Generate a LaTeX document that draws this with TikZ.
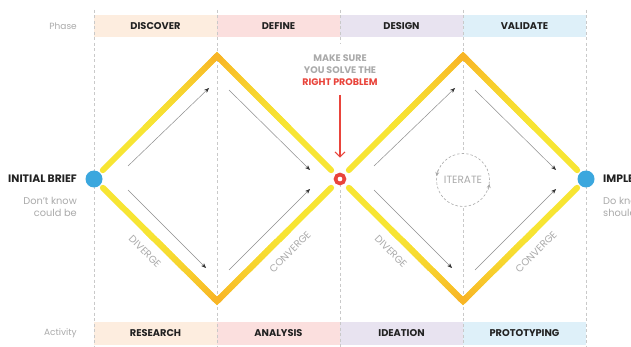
\documentclass[tikz,border=0pt]{standalone}
\usepackage{fontspec}
\setmainfont{Poppins}
\usetikzlibrary{arrows.meta,calc}

\definecolor{dyellow}{HTML}{F7E533}
\definecolor{dorange}{HTML}{F8B526}
\definecolor{dblue}{HTML}{3BA7DE}
\definecolor{dred}{HTML}{E9443B}
\definecolor{txtgray}{HTML}{AAAAAA}
\definecolor{guide}{HTML}{C9C9C9}
\definecolor{bandA}{HTML}{FDEDDF}
\definecolor{bandB}{HTML}{FBDFDE}
\definecolor{bandC}{HTML}{E8E3F0}
\definecolor{bandD}{HTML}{DEF0F9}
\definecolor{flowline}{HTML}{8E8E8E}
\definecolor{ink}{HTML}{222222}

\tikzset{
  guideline/.style={guide, line width=0.7pt, dash pattern=on 3pt off 2.5pt},
  band/.style={draw=none, minimum width=123pt, inner sep=0pt,
    font=\bfseries\fontsize{9.8}{11}\selectfont, text=ink},
  rowlabel/.style={anchor=east, text=txtgray, inner sep=0pt, font=\fontsize{9}{10}\selectfont},
  arm/.style={dyellow, line width=6pt, line cap=round, line join=miter},
  flow/.style={flowline, line width=0.5pt,
    -{Stealth[length=5pt,width=4pt,color=black!80]}},
  edgelabel/.style={text=txtgray, inner sep=0pt, font=\fontsize{10}{11}\selectfont},
  dot/.style={circle, fill=dblue, minimum size=17pt, inner sep=0pt},
}

% orange at the apex blending into the yellow arm
\newcommand{\shadearm}[2]{%
  \foreach \k in {0,...,23}{%
    \pgfmathsetmacro{\ta}{\k*0.026}%
    \pgfmathsetmacro{\tb}{(\k+1)*0.026+0.006}%
    \pgfmathsetmacro{\mx}{100*(1-\k/24)^1.5}%
    \draw[dorange!\mx!dyellow, line width=6pt, line cap=butt]
      ($(#1)!\ta!(#2)$) -- ($(#1)!\tb!(#2)$);
  }%
  \draw[dorange, line width=6pt, line cap=butt] (#1) -- ($(#1)!0.02!(#2)$);
}

\begin{document}
\begin{tikzpicture}[x=1pt,y=-1pt]
\useasboundingbox (0,0) rectangle (631,347);
\clip (0,0) rectangle (631,347);
\fill[white] (0,0) rectangle (631,347);

% phase and activity bands
\node[band, fill=bandA, minimum height=22pt] (discover) at (155.5,26) {DISCOVER};
\node[band, fill=bandB, minimum height=22pt] (define)   at (278.5,26) {DEFINE};
\node[band, fill=bandC, minimum height=22pt] (design)   at (401.5,26) {DESIGN};
\node[band, fill=bandD, minimum height=22pt] (validate) at (524.5,26) {VALIDATE};
\node[band, fill=bandA, minimum height=23pt] (research)  at (155.5,333.5) {RESEARCH};
\node[band, fill=bandB, minimum height=23pt] (analysis)  at (278.5,333.5) {ANALYSIS};
\node[band, fill=bandC, minimum height=23pt] (ideation)  at (401.5,333.5) {IDEATION};
\node[band, fill=bandD, minimum height=23pt] (prototype) at (524.5,333.5) {PROTOTYPING};
\node[rowlabel] (phase) at (77,26) {Phase};
\node[rowlabel] (activity) at (77,333.5) {Activity};

% diamond corners
\coordinate (L1) at (94,179);
\coordinate (T1) at (217,56);
\coordinate (B1) at (217,301);
\coordinate (M)  at (340,179);
\coordinate (T2) at (463,56);
\coordinate (B2) at (463,301);
\coordinate (R2) at (586,179);

% dashed column guides
\foreach \gx/\gn in {94/ga,217/gb,463/gd,586/ge}{
  \coordinate (\gn top) at (\gx,10);
  \coordinate (\gn bot) at (\gx,347);
  \draw[guideline] (\gn top) -- (\gn bot);
}
\coordinate (gc top) at (340,10);
\coordinate (gc mid) at (340,44);
\coordinate (gc bot) at (340,347);
\draw[guideline] (gc top) -- (gc mid);
\draw[guideline] (M) -- (gc bot);

% arm ends, leaving a gap around the circles
\coordinate (a1) at ($(L1)!12.5pt!(T1)$);
\coordinate (b1) at ($(M)!12.5pt!(T1)$);
\coordinate (c1) at ($(L1)!12.5pt!(B1)$);
\coordinate (d1) at ($(M)!12.5pt!(B1)$);
\coordinate (a2) at ($(M)!12.5pt!(T2)$);
\coordinate (b2) at ($(R2)!12.5pt!(T2)$);
\coordinate (c2) at ($(M)!12.5pt!(B2)$);
\coordinate (d2) at ($(R2)!12.5pt!(B2)$);

% the two diamonds
\draw[arm] (a1) -- (T1) -- (b1);
\draw[arm] (c1) -- (B1) -- (d1);
\draw[arm] (a2) -- (T2) -- (b2);
\draw[arm] (c2) -- (B2) -- (d2);
\shadearm{T1}{a1}\shadearm{T1}{b1}
\shadearm{B1}{c1}\shadearm{B1}{d1}
\shadearm{T2}{a2}\shadearm{T2}{b2}
\shadearm{B2}{c2}\shadearm{B2}{d2}
\foreach \p/\q/\r in {T1/a1/b1, B1/c1/d1, T2/a2/b2, B2/c2/d2}{
  \draw[dorange, line width=6pt, line join=miter]
    ($(\p)!0.03!(\q)$) -- (\p) -- ($(\p)!0.03!(\r)$);
}

% flow arrows inside the diamonds
\foreach \dx/\n in {0/1,246/2}{
  \coordinate (ul\n s) at (128+\dx,166);
  \coordinate (ul\n e) at (209+\dx,88);
  \coordinate (ur\n s) at (229+\dx,90);
  \coordinate (ur\n e) at (310+\dx,170);
  \coordinate (ll\n s) at (128+\dx,190);
  \coordinate (ll\n e) at (206+\dx,268);
  \coordinate (lr\n s) at (229+\dx,270);
  \coordinate (lr\n e) at (310+\dx,189);
  \draw[flow] (ul\n s) -- (ul\n e);
  \draw[flow] (ur\n s) -- (ur\n e);
  \draw[flow] (ll\n s) -- (ll\n e);
  \draw[flow] (lr\n s) -- (lr\n e);
}

% edge labels
\node[edgelabel, rotate=-45] (div1) at (145,251.5) {DIVERGE};
\node[edgelabel, rotate=45]  (con1) at (290,252) {CONVERGE};
\node[edgelabel, rotate=-45] (div2) at (391,251.5) {DIVERGE};
\node[edgelabel, rotate=45]  (con2) at (536,252) {CONVERGE};

% iterate loop
\node[circle, draw=txtgray, line width=0.6pt, dash pattern=on 2.5pt off 2pt,
      fill=white, minimum size=53pt, inner sep=0pt, text=txtgray,
      font=\fontsize{10.5}{11}\selectfont] (iter) at (463,180) {ITERATE};
\coordinate (itl s) at ($(iter.center)+(-25.4,-9.5)$);
\coordinate (itl e) at ($(iter.center)+(-26.4,-4)$);
\coordinate (itr s) at ($(iter.center)+(25.4,9.5)$);
\coordinate (itr e) at ($(iter.center)+(26.4,4)$);
\draw[txtgray, line width=0.6pt, -{Stealth[length=4pt,width=4pt]}] (itl s) -- (itl e);
\draw[txtgray, line width=0.6pt, -{Stealth[length=4pt,width=4pt]}] (itr s) -- (itr e);

% start, midpoint and end markers
\node[dot] (start) at (L1) {};
\node[dot] (finish) at (R2) {};
\node[circle, draw=dred, line width=3.6pt, fill=white, minimum size=9pt,
      inner sep=0pt] (mid) at (M) {};

% note with pointer
\node[align=center, text=txtgray, font=\bfseries\fontsize{9.5}{12}\selectfont]
  (note) at (340,70) {MAKE SURE\\YOU SOLVE THE\\\textcolor{dred}{RIGHT PROBLEM}};
\coordinate (ptr) at (340,95);
\draw[dred, line width=1.1pt, shorten >=15pt,
      -{Straight Barb[length=5pt,width=10pt]}] (ptr) -- (mid.north);

% side texts
\node[anchor=east, inner sep=0pt, text=ink, font=\bfseries\fontsize{10.8}{12}\selectfont]
  (brief) at (77,179) {INITIAL BRIEF};
\node[anchor=north east, inner sep=0pt, align=right, text=txtgray,
      font=\fontsize{9.8}{12}\selectfont] (briefnote) at (77,197) {Don't know\\could be};
\node[anchor=west, inner sep=0pt, text=ink, font=\bfseries\fontsize{10.8}{12}\selectfont]
  (impl) at (603,179) {IMPLEMENTATION};
\node[anchor=north west, inner sep=0pt, align=left, text=txtgray,
      font=\fontsize{9.8}{12}\selectfont] (implnote) at (603,197) {Do know\\should be};
\end{tikzpicture}
\end{document}
